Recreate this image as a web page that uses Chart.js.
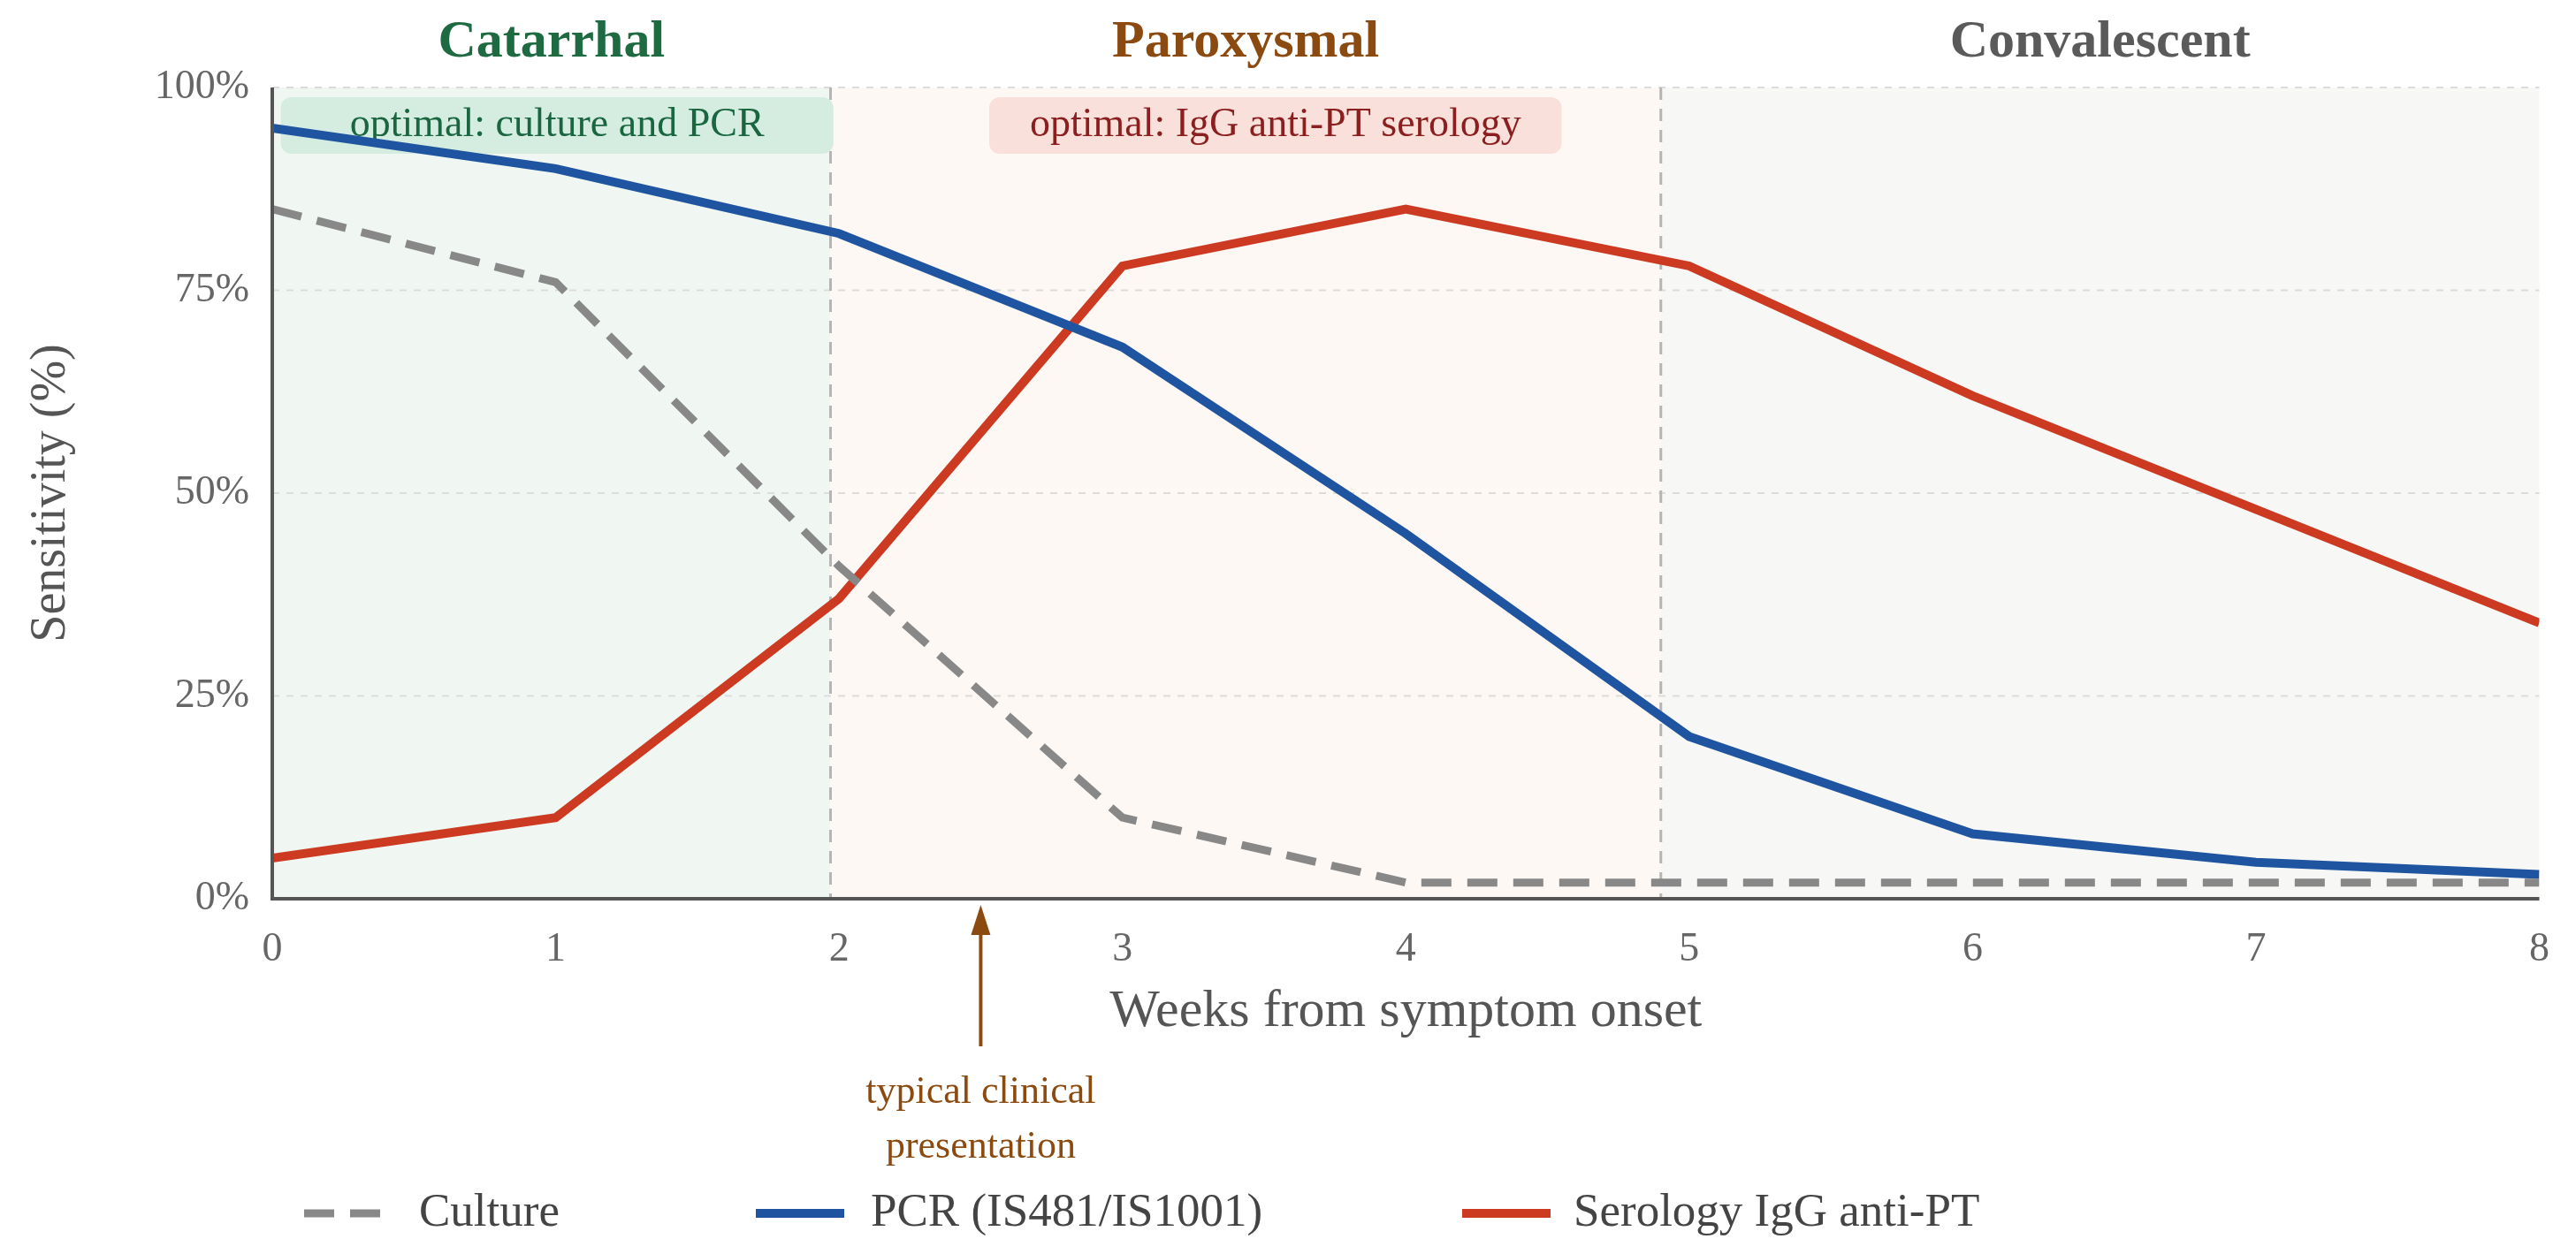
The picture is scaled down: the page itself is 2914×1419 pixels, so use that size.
<!DOCTYPE html>
<html><head><meta charset="utf-8">
<script src="https://cdn.jsdelivr.net/npm/chart.js@4.4.1/dist/chart.umd.min.js"></script>
<style>html,body{margin:0;padding:0;background:#fff}#w{width:2914px;height:1419px}</style>
</head><body><div id="w"><canvas id="c"></canvas></div>
<script>
const weeks = [0,1,2,3,4,5,6,7,8];
const culture = [85,76,41,10,2,2,2,2,2];
const pcr = [95,90,82,68,45,20,8,4.5,3];
const serology = [5,10,37,78,85,78,62,48,34];
const seriesNames = ["Culture","PCR (IS481/IS1001)","Serology IgG anti-PT"];
const yTicks = [0,25,50,75,100];
const phases = [
  {name:"Catarrhal", from:0, to:1.97, bg:"#f0f7f2", color:"#1e6b42"},
  {name:"Paroxysmal", from:1.97, to:4.9, bg:"#fdf8f3", color:"#8b4a10"},
  {name:"Convalescent", from:4.9, to:8, bg:"#f7f7f6", color:"#5a5a5a"}
];
const boxes = [
  {text:"optimal: culture and PCR", from:0.03, to:1.98, bg:"#d4ede0", color:"#1a6640"},
  {text:"optimal: IgG anti-PT serology", from:2.53, to:4.55, bg:"#f9e0da", color:"#8b1e1e"}
];
const arrowWeek = 2.5;
const F = "'Liberation Serif', serif";

function rr(ctx,x,y,w,h,r){ctx.beginPath();ctx.moveTo(x+r,y);ctx.arcTo(x+w,y,x+w,y+h,r);ctx.arcTo(x+w,y+h,x,y+h,r);ctx.arcTo(x,y+h,x,y,r);ctx.arcTo(x,y,x+w,y,r);ctx.closePath();}

const deco = {
  id:'deco',
  beforeDatasetsDraw(chart){
    const {ctx, chartArea:a, scales:{x,y}} = chart;
    ctx.save();
    phases.forEach(p=>{
      const x0=x.getPixelForValue(p.from), x1=x.getPixelForValue(p.to);
      ctx.fillStyle=p.bg; ctx.fillRect(x0,a.top,x1-x0,a.bottom-a.top);
    });
    ctx.setLineDash([8,8]); ctx.strokeStyle="#dcdcdc"; ctx.lineWidth=2;
    yTicks.forEach(v=>{ if(v===0) return; const py=y.getPixelForValue(v);
      ctx.beginPath(); ctx.moveTo(a.left,py); ctx.lineTo(a.right,py); ctx.stroke();});
    ctx.setLineDash([14,10]); ctx.strokeStyle="#b5b5b5"; ctx.lineWidth=3;
    [phases[0].to, phases[1].to].forEach(v=>{const px=x.getPixelForValue(v);
      ctx.beginPath(); ctx.moveTo(px,a.top); ctx.lineTo(px,a.bottom); ctx.stroke();});
    ctx.setLineDash([]);
    boxes.forEach(b=>{
      const x0=x.getPixelForValue(b.from), x1=x.getPixelForValue(b.to);
      ctx.fillStyle=b.bg; rr(ctx,x0,110,x1-x0,64,12); ctx.fill();
      ctx.fillStyle=b.color; ctx.font="46px "+F; ctx.textAlign="center"; ctx.textBaseline="middle";
      ctx.fillText(b.text,(x0+x1)/2,142);
    });
    ctx.restore();
  },
  afterDraw(chart){
    const {ctx, chartArea:a, scales:{x,y}} = chart;
    ctx.save();
    ctx.strokeStyle="#555"; ctx.lineWidth=4;
    ctx.beginPath(); ctx.moveTo(a.left,a.top); ctx.lineTo(a.left,a.bottom); ctx.lineTo(a.right,a.bottom); ctx.stroke();
    phases.forEach(p=>{
      ctx.fillStyle=p.color; ctx.font="bold 60px "+F; ctx.textAlign="center"; ctx.textBaseline="middle";
      ctx.fillText(p.name,(x.getPixelForValue(p.from)+x.getPixelForValue(p.to))/2,48);
    });
    ctx.fillStyle="#555"; ctx.font="60px "+F; ctx.textAlign="center"; ctx.textBaseline="middle";
    ctx.fillText("Weeks from symptom onset",(a.left+a.right)/2,1145);
    ctx.save(); ctx.translate(58,(a.top+a.bottom)/2); ctx.rotate(-Math.PI/2);
    ctx.font="56px "+F; ctx.fillText("Sensitivity (%)",0,0); ctx.restore();
    const ax=x.getPixelForValue(arrowWeek);
    ctx.strokeStyle="#8b4a10"; ctx.fillStyle="#8b4a10"; ctx.lineWidth=4;
    ctx.beginPath(); ctx.moveTo(ax,1184); ctx.lineTo(ax,1035); ctx.stroke();
    ctx.beginPath(); ctx.moveTo(ax,1024); ctx.lineTo(ax-11,1058); ctx.lineTo(ax+11,1058); ctx.closePath(); ctx.fill();
    ctx.font="44px "+F;
    ctx.fillText("typical clinical",ax,1236); ctx.fillText("presentation",ax,1298);
    const leg=[{x:344,t:474},{x:855,t:985},{x:1654,t:1780}];
    chart.data.datasets.forEach((d,i)=>{
      const L=leg[i], ly=1373;
      ctx.strokeStyle=d.borderColor; ctx.lineWidth=d.borderWidth;
      ctx.setLineDash(d.borderDash||[]);
      ctx.beginPath(); ctx.moveTo(L.x,ly); ctx.lineTo(L.x+(i===0?86:100),ly); ctx.stroke();
      ctx.setLineDash([]);
      ctx.fillStyle="#444"; ctx.font="53px "+F; ctx.textAlign="left"; ctx.textBaseline="middle";
      ctx.fillText(d.label,L.t,ly);
    });
    ctx.restore();
  }
};

new Chart(document.getElementById('c'),{
  type:'line',
  data:{datasets:[
    {label:seriesNames[0], data:weeks.map((w,i)=>({x:w,y:culture[i]})), borderColor:"#888888", borderWidth:9, borderDash:[34,18], pointRadius:0, tension:0},
    {label:seriesNames[1], data:weeks.map((w,i)=>({x:w,y:pcr[i]})), borderColor:"#1f55a0", borderWidth:10, pointRadius:0, tension:0},
    {label:seriesNames[2], data:weeks.map((w,i)=>({x:w,y:serology[i]})), borderColor:"#cc3a22", borderWidth:10, pointRadius:0, tension:0}
  ]},
  options:{
    responsive:true, maintainAspectRatio:false, animation:false,
    layout:{padding:{top:99,right:28,left:0,bottom:0}},
    plugins:{legend:{display:false},tooltip:{enabled:false}},
    scales:{
      x:{type:'linear',min:0,max:8,
        afterFit(s){s.height=402;},
        afterBuildTicks(s){s.ticks=weeks.map(v=>({value:v}));},
        grid:{display:false,drawTicks:false}, border:{display:false},
        ticks:{padding:30,color:"#666",font:{family:F,size:46}}},
      y:{min:0,max:100,
        afterFit(s){s.width=308;},
        afterBuildTicks(s){s.ticks=yTicks.map(v=>({value:v}));},
        grid:{display:false,drawTicks:false}, border:{display:false},
        ticks:{padding:26,color:"#666",font:{family:F,size:46},callback:v=>v+"%"}}
    }
  },
  plugins:[deco]
});
</script></body></html>
